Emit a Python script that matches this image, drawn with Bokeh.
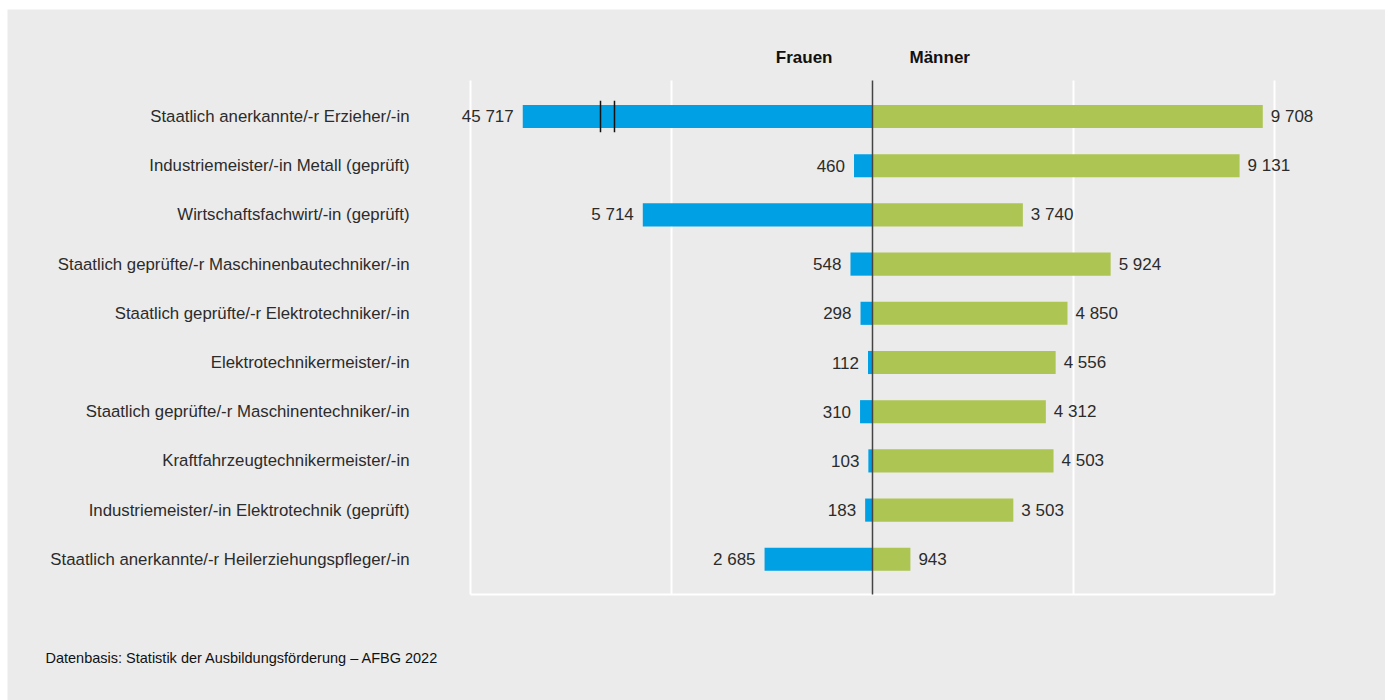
from bokeh.plotting import figure
from bokeh.models import Range1d, ColumnDataSource, Spacer
from bokeh.layouts import row, column
from bokeh.core.properties import value
from bokeh.embed import file_html
from bokeh.resources import INLINE

categories = [
    "Staatlich anerkannte/-r Erzieher/-in",
    "Industriemeister/-in Metall (geprüft)",
    "Wirtschaftsfachwirt/-in (geprüft)",
    "Staatlich geprüfte/-r Maschinenbautechniker/-in",
    "Staatlich geprüfte/-r Elektrotechniker/-in",
    "Elektrotechnikermeister/-in",
    "Staatlich geprüfte/-r Maschinentechniker/-in",
    "Kraftfahrzeugtechnikermeister/-in",
    "Industriemeister/-in Elektrotechnik (geprüft)",
    "Staatlich anerkannte/-r Heilerziehungspfleger/-in",
]
frauen = [45717, 460, 5714, 548, 298, 112, 310, 103, 183, 2685]
maenner = [9708, 9131, 3740, 5924, 4850, 4556, 4312, 4503, 3503, 943]
grid_ticks = [-10000, -5000, 5000, 10000]
header_left = "Frauen"
header_right = "Männer"
footnote = "Datenbasis: Statistik der Ausbildungsförderung – AFBG 2022"

# style / layout constants
BG = "#ebebeb"
BLUE = "#00a1e4"
GREEN = "#adc552"
TEXT = "#2b2b2b"
FONT = "Liberation Sans"
FS = "17px"
CAT_FS = "16.8px"
CAP = 8700          # displayed length of the axis-broken bar
BREAKS = [-6766, -6418]
BAR_H = 0.47
X_RANGE = (-21517, 12761)
Y_RANGE = (11.87, -2.175)
Y_TOP, Y_BOT = -0.732, 9.715
HEADER_Y = -1.2
FOOT_X, FOOT_Y = -20572, 11.0


def fmt(v):
    return f"{v:,}".replace(",", " ")


ys = list(range(len(categories)))
f_disp = [-min(v, CAP) for v in frauen]

src = ColumnDataSource(dict(
    y=ys, f=f_disp, m=list(maenner), cat=categories,
    catx=[grid_ticks[0]] * len(categories),
    ftxt=[fmt(v) for v in frauen], mtxt=[fmt(v) for v in maenner],
))

p = figure(width=1378, height=691, output_backend="svg", toolbar_location=None,
           x_range=Range1d(*X_RANGE), y_range=Range1d(*Y_RANGE),
           x_axis_location=None, y_axis_location=None,
           min_border_left=0, min_border_right=0, min_border_top=0, min_border_bottom=0)
p.background_fill_color = BG
p.border_fill_color = BG
p.outline_line_color = None
p.xgrid.visible = False
p.ygrid.visible = False

# white grid lines
n = len(grid_ticks)
p.segment(x0=grid_ticks, x1=grid_ticks, y0=[Y_TOP] * n, y1=[Y_BOT] * n,
          line_color="white", line_width=2)
p.segment(x0=[grid_ticks[0]], x1=[grid_ticks[-1]], y0=[Y_BOT], y1=[Y_BOT],
          line_color="white", line_width=2)

# bars
p.hbar(y="y", left="f", right=0, height=BAR_H, source=src, color=BLUE, line_width=0)
p.hbar(y="y", left=0, right="m", height=BAR_H, source=src, color=GREEN, line_width=0)

# axis break marks on the truncated bar
p.segment(x0=BREAKS, x1=BREAKS, y0=[-0.32] * 2, y1=[0.32] * 2,
          line_color="#111111", line_width=1.5)

# center line
p.segment(x0=[0], x1=[0], y0=[Y_TOP], y1=[Y_BOT], line_color="#444444", line_width=1.5)

# category labels
p.text(x="catx", y="y", text="cat", source=src, x_offset=-61, text_align="right",
       text_baseline="middle", text_font=value(FONT), text_font_size=CAT_FS, text_color=TEXT)

# value labels
p.text(x="f", y="y", text="ftxt", source=src, x_offset=-9, text_align="right",
       text_baseline="middle", text_font=value(FONT), text_font_size=FS, text_color=TEXT)
p.text(x="m", y="y", text="mtxt", source=src, x_offset=8, text_align="left",
       text_baseline="middle", text_font=value(FONT), text_font_size=FS, text_color=TEXT)

# headers
p.text(x=[0], y=[HEADER_Y], text=[header_left], x_offset=-40, text_align="right",
       text_baseline="middle", text_font=value(FONT), text_font_size=FS,
       text_font_style="bold", text_color="#111111")
p.text(x=[0], y=[HEADER_Y], text=[header_right], x_offset=37, text_align="left",
       text_baseline="middle", text_font=value(FONT), text_font_size=FS,
       text_font_style="bold", text_color="#111111")

# footnote
p.text(x=[FOOT_X], y=[FOOT_Y], text=[footnote], text_align="left",
       text_baseline="middle", text_font=value(FONT), text_font_size="14.5px",
       text_color="#111111")

layout = row(Spacer(width=7, height=700), column(Spacer(width=10, height=9), p))
open("out.html", "w").write(file_html(layout, INLINE))
